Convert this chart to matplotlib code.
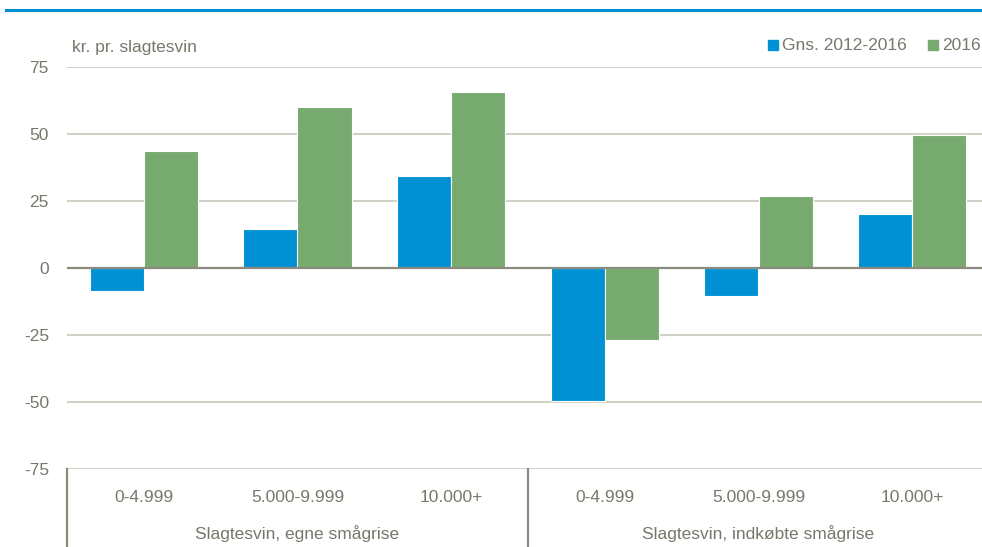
import matplotlib.pyplot as plt
import matplotlib.transforms as mtransforms
from matplotlib.lines import Line2D
import numpy as np

plt.rcParams['font.family'] = ['Liberation Sans Narrow', 'Liberation Sans', 'DejaVu Sans']

# data
groups = ['Slagtesvin, egne smågrise', 'Slagtesvin, indkøbte smågrise']
sizes = ['0-4.999', '5.000-9.999', '10.000+']
series_names = ['Gns. 2012-2016', '2016']
avg_2012_2016 = [-8.5, 14.5, 34.5, -49.5, -10.5, 20]
year_2016 = [43.5, 60, 65.5, -27, 27, 49.5]
yticks = [-75, -50, -25, 0, 25, 50, 75]

blue = '#0091d5'
green = '#77aa6e'
text_col = '#77776b'
grid_col = '#c8c8bc'
fs = 12.5

W, H = 982, 547
fig = plt.figure(figsize=(W / 100, H / 100), dpi=100)
ax = fig.add_axes([67 / W, 1 - 469 / H, 922 / W, (469 - 67) / H])

n = len(avg_2012_2016)
x = np.arange(n)
bw = 0.352
ax.bar(x - bw / 2, avg_2012_2016, bw, color=blue, edgecolor='white', linewidth=0.8, zorder=3)
ax.bar(x + bw / 2, year_2016, bw, color=green, edgecolor='white', linewidth=0.8, zorder=3)

ax.set_xlim(-0.5, n - 0.5)
ax.set_ylim(-75, 75)
ax.set_yticks(yticks)
ax.set_yticklabels([str(v) for v in yticks], fontsize=fs, color=text_col)
ax.tick_params(axis='y', length=0, pad=13)
ax.set_xticks([])
for s in ax.spines.values():
    s.set_visible(False)
for v in yticks:
    if v == 0:
        ax.axhline(v, color='#8a8a7e', linewidth=1.6, zorder=4)
    else:
        ax.axhline(v, color=grid_col, linewidth=1.2, zorder=1)

# category and group labels below the axis
trans = mtransforms.blended_transform_factory(ax.transData, ax.transAxes)
for i in range(n):
    ax.text(x[i], -0.07, sizes[i % len(sizes)], transform=trans, ha='center', va='center',
            fontsize=fs, color=text_col)
for g, name in enumerate(groups):
    ax.text(g * 3 + 1, -0.16, name, transform=trans, ha='center', va='center',
            fontsize=fs, color=text_col)
for xv in [-0.5, 2.5]:
    ax.add_line(Line2D([xv, xv], [0, -0.2], transform=trans, color='#8a8a7e',
                       linewidth=1.6, clip_on=False))

# unit label and legend
fig.text(72 / W, 1 - 48 / H, 'kr. pr. slagtesvin', fontsize=fs, color=text_col, va='center')
fig.patches.append(plt.Rectangle((768 / W, 1 - 50 / H), 10 / W, 10 / H, color=blue,
                                 transform=fig.transFigure))
fig.text(782 / W, 1 - 45 / H, series_names[0], fontsize=fs, color=text_col, va='center')
fig.patches.append(plt.Rectangle((928 / W, 1 - 50 / H), 10 / W, 10 / H, color=green,
                                 transform=fig.transFigure))
fig.text(942 / W, 1 - 45 / H, series_names[1], fontsize=fs, color=text_col, va='center')

# top rule
fig.add_artist(Line2D([6 / W, 1], [1 - 10 / H, 1 - 10 / H], transform=fig.transFigure,
                      color=blue, linewidth=2.2))

fig.savefig('out.png', dpi=100)
